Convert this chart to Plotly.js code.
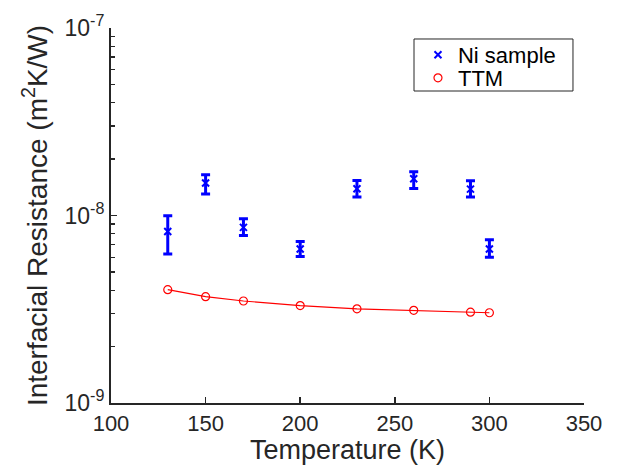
<!DOCTYPE html>
<html>
<head>
<meta charset="utf-8">
<script src="https://cdn.plot.ly/plotly-3.0.1.min.js"></script>
<style>html,body{margin:0;padding:0;background:#fff}#chart{width:631px;height:465px}</style>
</head>
<body>
<div id="chart"></div>
<script>
// Data
const temps = [130, 150, 170, 200, 230, 260, 290, 300];
const niSample = [8.22e-9, 1.489e-8, 8.64e-9, 6.63e-9, 1.388e-8, 1.570e-8, 1.383e-8, 6.63e-9];
const niUpper = [9.97e-9, 1.649e-8, 9.61e-9, 7.27e-9, 1.537e-8, 1.710e-8, 1.532e-8, 7.43e-9];
const niLower = [6.23e-9, 1.301e-8, 7.83e-9, 6.05e-9, 1.254e-8, 1.393e-8, 1.254e-8, 5.98e-9];
const ttm = [4.02e-9, 3.69e-9, 3.50e-9, 3.31e-9, 3.18e-9, 3.12e-9, 3.05e-9, 3.03e-9];

const xTicks = [100, 150, 200, 250, 300, 350];
const yTicks = [1e-9, 1e-8, 1e-7];
const yTickText = ['10<sup>-9</sup>', '10<sup>-8</sup>', '10<sup>-7</sup>'];
const yMinorTicks = [2e-9, 3e-9, 4e-9, 5e-9, 6e-9, 7e-9, 8e-9, 9e-9,
                     2e-8, 3e-8, 4e-8, 5e-8, 6e-8, 7e-8, 8e-8, 9e-8];

const errPlus = niUpper.map((u, i) => u - niSample[i]);
const errMinus = niLower.map((l, i) => niSample[i] - l);

const axisColor = '#262626';
const fontFamily = '"Liberation Sans", Arial, Helvetica, sans-serif';

const traces = [
  {
    x: temps, y: niSample, name: 'Ni sample', type: 'scatter', mode: 'markers', legend: 'legend',
    marker: {symbol: 'x-thin', size: 7, color: '#0000ff', line: {color: '#0000ff', width: 2}},
    error_y: {type: 'data', symmetric: false, array: errPlus, arrayminus: errMinus,
              color: '#0000ff', thickness: 3, width: 4.5}
  },
  {
    x: temps, y: ttm, name: 'TTM_line', type: 'scatter', mode: 'lines',
    line: {color: '#ff0000', width: 1.2}, showlegend: false, hoverinfo: 'skip'
  },
  {
    x: temps, y: ttm, name: 'TTM', type: 'scatter', mode: 'markers', legend: 'legend2',
    marker: {symbol: 'circle-open', size: 8, color: '#ff0000', line: {color: '#ff0000', width: 1.2}}
  }
];

const legendCommon = {
  xanchor: 'left', yanchor: 'middle', bgcolor: 'rgba(0,0,0,0)', borderwidth: 0,
  font: {family: fontFamily, size: 22, color: '#000000'}
};

const layout = {
  width: 631, height: 465,
  margin: {l: 111, r: 47, t: 28, b: 62, pad: 0},
  paper_bgcolor: '#ffffff', plot_bgcolor: '#ffffff',
  font: {family: fontFamily, color: axisColor, size: 22},
  showlegend: true,
  legend: Object.assign({x: 0.649, y: 0.928}, legendCommon),
  legend2: Object.assign({x: 0.649, y: 0.8667}, legendCommon),
  shapes: [{
    type: 'rect', xref: 'paper', yref: 'paper', x0: 0.6406, x1: 0.9767, y0: 0.832, y1: 0.9707,
    line: {color: axisColor, width: 1}, fillcolor: 'rgba(0,0,0,0)', layer: 'below'
  }],
  xaxis: {
    type: 'linear', range: [100, 350], tickmode: 'array', tickvals: xTicks,
    ticks: 'inside', ticklen: 6, tickwidth: 1.5, tickcolor: axisColor,
    showline: true, linewidth: 2, linecolor: axisColor, mirror: false,
    showgrid: false, zeroline: false,
    tickfont: {size: 22, color: axisColor},
    title: {text: 'Temperature (K)', font: {size: 27, color: axisColor}, standoff: 4}
  },
  yaxis: {
    type: 'log', range: [-9, -7], tickmode: 'array', tickvals: yTicks, ticktext: yTickText,
    ticks: 'inside', ticklen: 6, tickwidth: 1.5, tickcolor: axisColor,
    minor: {tickmode: 'array', tickvals: yMinorTicks, ticks: 'inside', ticklen: 4,
            tickwidth: 1.2, tickcolor: axisColor, showgrid: false},
    showline: true, linewidth: 2, linecolor: axisColor, mirror: false,
    showgrid: false, zeroline: false,
    tickfont: {size: 23, color: axisColor},
    title: {text: 'Interfacial Resistance (m<sup>2</sup>K/W)', font: {size: 28, color: axisColor}, standoff: 9}
  }
};

Plotly.newPlot('chart', traces, layout, {displayModeBar: false, staticPlot: true});
</script>
</body>
</html>
